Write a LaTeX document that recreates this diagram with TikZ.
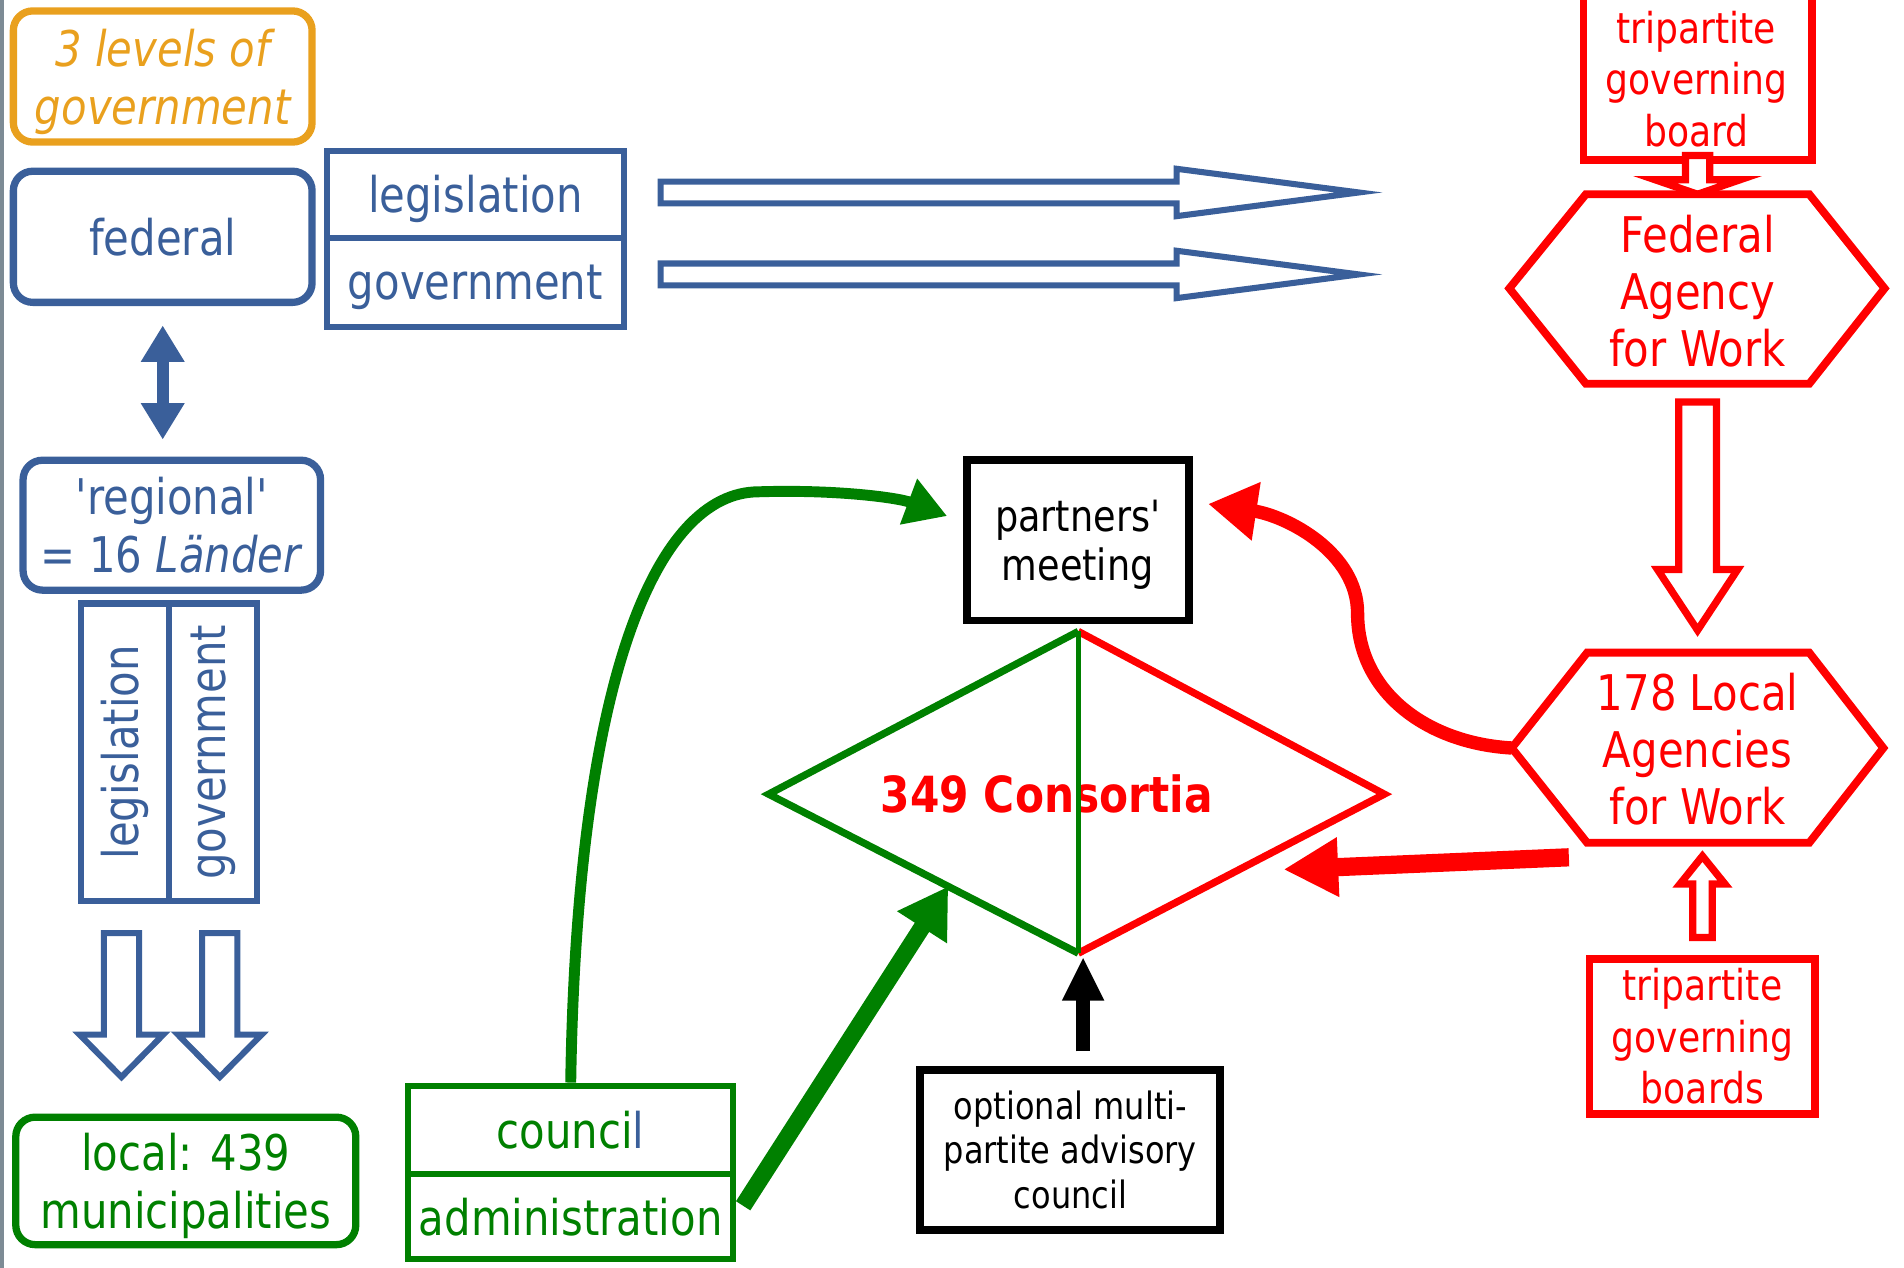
\documentclass[tikz,border=0pt]{standalone}
\usepackage{fontspec}
\newfontfamily\dv[FakeStretch=0.85]{DejaVu Sans}
\usetikzlibrary{arrows.meta,calc}

\definecolor{cblue}{RGB}{58,95,154}
\definecolor{corange}{RGB}{233,160,30}
\definecolor{cgreen}{RGB}{0,128,0}
\definecolor{cred}{RGB}{255,0,0}
\definecolor{cgrey}{RGB}{125,139,149}

% font sizes
\newcommand\fmain{\dv\fontsize{40.5}{47.5}\selectfont}
\newcommand\fagency{\dv\fontsize{40.5}{47}\selectfont}
\newcommand\fmeet{\dv\fontsize{35.5}{40}\selectfont}
\newcommand\fadv{\dv\fontsize{31}{37}\selectfont}
\newcommand\fboard{\dv\fontsize{35}{42.5}\selectfont}

% hollow block arrow: style, start, angle, length, shaft half width, head half width, head length
\newcommand\blockarrow[7]{%
  \begin{scope}[shift={#2},rotate=#3]
    \draw[#1] (0,-#5) -- ({#4-#7},-#5) -- ({#4-#7},-#6) -- (#4,0)
      -- ({#4-#7},#6) -- ({#4-#7},#5) -- (0,#5) -- cycle;
  \end{scope}}

\tikzset{
  base/.style={align=center, inner sep=0pt},
  nodepth/.style={text depth=0pt},
  bbox/.style={base, draw=cblue, text=cblue, line width=5pt, font=\fmain},
  bround/.style={bbox, rounded corners=16pt, line width=6pt},
  gbox/.style={base, draw=cgreen, text=cgreen, line width=5pt, font=\fmain},
  ground/.style={gbox, rounded corners=16pt, line width=6pt},
  kbox/.style={base, draw=black, text=black, line width=6.5pt},
  rbox/.style={base, draw=cred, text=cred, line width=6.5pt, font=\fboard},
  rtext/.style={base, text=cred},
  hexline/.style={draw=cred, line width=6.5pt, fill=white},
  bluearrow/.style={draw=cblue, line width=5pt, fill=white},
  redarrow/.style={draw=cred, line width=6pt, fill=white},
}

\begin{document}
\begin{tikzpicture}[x=1pt,y=-1pt,line join=miter]
\useasboundingbox (0,0) rectangle (1568,1044);
\fill[cgrey] (0,0) rectangle (3,1044);

% ---------- left column: levels of government ----------
\node[bround, nodepth, draw=corange, text=corange, font=\fmain\itshape,
      minimum width=246pt, minimum height=108pt] (levels) at (134,63) {3 levels of\\government};
\node[bround, minimum width=246pt, minimum height=108pt] (federal) at (134,195) {federal};
\node[bbox, nodepth, minimum width=245pt, minimum height=72pt] (fedleg) at (391.5,160) {legislation};
\node[bbox, nodepth, minimum width=245pt, minimum height=73pt] (fedgov) at (391.5,232.5) {government};

\node[bround, minimum width=245pt, minimum height=107pt] (regional) at (141.5,432.5)
  {'regional'\\= 16 \textit{Länder}};
\node[bbox, rotate=90, minimum width=245pt, minimum height=72pt] (regleg) at (103,619.5) {legislation};
\node[bbox, rotate=90, minimum width=245pt, minimum height=73pt] (reggov) at (175.5,619.5) {government};

\draw[cblue, line width=10pt,
      {Triangle[length=30pt,width=34pt]}-{Triangle[length=30pt,width=34pt]},
      shorten <=16pt, shorten >=14pt] (federal.south) -- (federal.south |- regional.north);

% federal level passes legislation and government on
\blockarrow{bluearrow}{(544,158.5)}{0}{575}{9}{19.5}{150}
\blockarrow{bluearrow}{(544,226)}{0}{575}{9}{19.5}{150}

% regional level passes down to the municipalities
\blockarrow{bluearrow}{(100,768.5)}{-90}{118.5}{14.5}{34.5}{35}
\blockarrow{bluearrow}{(181,768.5)}{-90}{118.5}{14.5}{34.5}{35}

\node[ground, nodepth, minimum width=280pt, minimum height=105pt] (local) at (153,972.5)
  {local: 439\\municipalities};
\node[gbox, minimum width=268pt, minimum height=73pt] (council) at (470,930.5)
  {counci\textcolor{cblue}{l}};
\node[gbox, minimum width=268pt, minimum height=70pt] (admin) at (470,1002) {administration};

% ---------- consortia ----------
\node[kbox, nodepth, font=\fmeet, minimum width=183pt, minimum height=132pt] (meeting) at (887.5,445)
  {partners'\\meeting};
\node[kbox, font=\fadv, minimum width=247pt, minimum height=132pt] (advisory) at (881.5,947)
  {optional multi-\\partite advisory\\council};

\coordinate (dT) at (888,520);
\coordinate (dL) at (633,654);
\coordinate (dR) at (1140,654);
\coordinate (dB) at (888,785);
\draw[cred, line width=6pt] (dT) -- (dR) -- (dB);
\draw[cgreen, line width=6pt] (dT) -- (dL) -- (dB);
\node[base, text=cred, font=\dv\bfseries\fontsize{41}{48}\selectfont] (consortia) at (862,654) {349 Consortia};
\draw[cgreen, line width=4.5pt] (dT) -- (dB);

% ---------- right column: Federal Agency for Work ----------
\node[rbox, minimum width=188pt, minimum height=141pt] (topboard) at (1398,61.5) {};
\node[rtext, font=\fboard] (topboardtext) at (1397,65) {tripartite\\governing\\board};
\blockarrow{redarrow}{(1398,128)}{-90}{32}{10}{35}{12}

\coordinate (fL) at (1243,237.5);
\coordinate (fTL) at (1306,160);
\coordinate (fTR) at (1490,160);
\coordinate (fR) at (1552,237.5);
\coordinate (fBR) at (1490,316);
\coordinate (fBL) at (1306,316);
\draw[hexline] (fL) -- (fTL) -- (fTR) -- (fR) -- (fBR) -- (fBL) -- cycle;
\node[rtext, font=\fagency] (fedagency) at (1398,240) {Federal\\Agency\\for Work};

\blockarrow{redarrow}{(1398,331)}{-90}{188}{15.5}{33}{50}

\coordinate (lL) at (1245,616);
\coordinate (lTL) at (1307,537.5);
\coordinate (lTR) at (1490,537.5);
\coordinate (lR) at (1551,616);
\coordinate (lBR) at (1490,694);
\coordinate (lBL) at (1307,694);
\draw[hexline] (lL) -- (lTL) -- (lTR) -- (lR) -- (lBR) -- (lBL) -- cycle;
\node[rtext, font=\fagency] (localagency) at (1398,617) {178 Local\\Agencies\\for Work};

\blockarrow{redarrow}{(1402,772)}{90}{67}{8}{18.5}{23}
\node[rbox, minimum width=186pt, minimum height=128pt] (boards) at (1402,853.5)
  {tripartite\\governing\\boards};

% ---------- connectors to the consortia ----------
\coordinate (greentip) at (780,425);
\draw[cgreen, line width=9pt, -{Triangle[length=34pt,width=38pt]}]
  (council.north) .. controls (475,560) and (540,405) .. (625,405)
  .. controls (690,403) and (740,410) .. (greentip);

\coordinate (admout) at (612,993);
\draw[cgreen, line width=14pt, -{Triangle[length=40pt,width=46pt]}]
  (admout) -- ($(dL)!0.58!(dB)$);

\coordinate (redtip) at (995,415);
\draw[cred, line width=11pt, -{Triangle[length=40pt,width=46pt]}]
  (lL) .. controls (1175,612) and (1118,570) .. (1118,505)
  .. controls (1118,455) and (1060,425) .. (redtip);

\coordinate (redout) at (1292,706);
\coordinate (redin) at (1057,716);
\draw[cred, line width=15pt, -{Triangle[length=45pt,width=46pt]}] (redout) -- (redin);

\coordinate (advtop) at ($(dB |- advisory.north)+(4,0)$);
\draw[black, line width=11pt, -{Triangle[length=36pt,width=32pt]},
      shorten <=12pt] (advtop) -- ($(dB)+(4,3)$);
\end{tikzpicture}
\end{document}
